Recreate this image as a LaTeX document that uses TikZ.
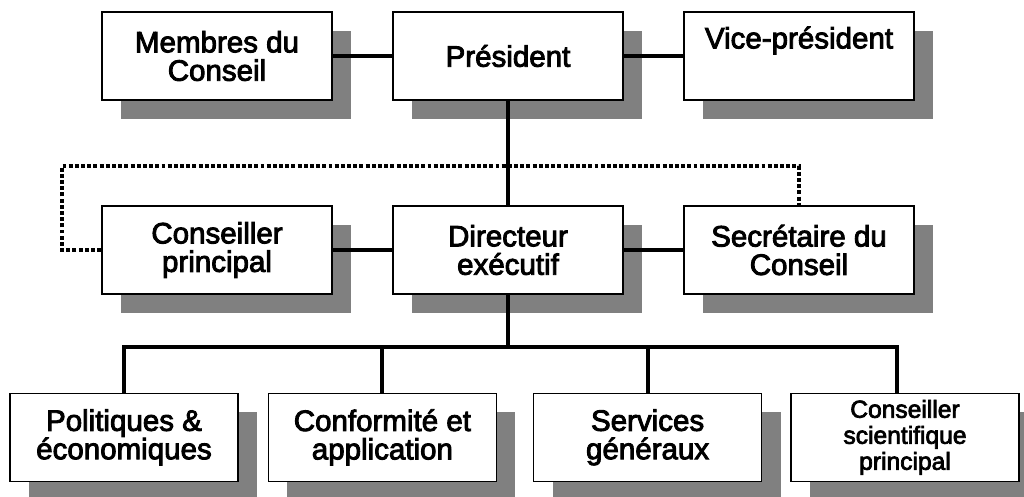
\documentclass[tikz,border=0pt]{standalone}
\usepackage{fontspec}
\setmainfont{Liberation Sans}[BoldFont=Liberation Sans,BoldFeatures={FakeBold=3}]
\usetikzlibrary{shadows}
\definecolor{OrgShadow}{HTML}{808080}
\tikzset{
  orgbox/.style={draw=black,line width=1.2pt,fill=white,minimum width=5.75cm,minimum height=2.2cm,
    inner sep=0pt,align=center,font=\fontsize{21}{20.2}\selectfont\bfseries,
    general shadow={fill=OrgShadow,shadow xshift=0.475cm,shadow yshift=-0.475cm}},
  orgline/.style={line width=2.8pt},
  orgdots/.style={line width=2.8pt,dash pattern=on 2.8pt off 1.6pt}
}

\begin{document}
\begin{tikzpicture}[x=1cm,y=1cm]
\path[use as bounding box] (0,0) rectangle (25.60,12.425);
% top row
\node[orgbox] (membres) at (5.425,11.025) {Membres du\\Conseil};
\node[orgbox] (pres) at (12.70,11.025) {Président};
\node[orgbox] (vice) at (19.975,11.025) {Vice-président\\\strut};
% middle row
\node[orgbox] (cp) at (5.425,6.175) {Conseiller\\principal};
\node[orgbox] (dir) at (12.70,6.175) {Directeur\\exécutif};
\node[orgbox] (sec) at (19.975,6.175) {Secrétaire du\\Conseil};
% bottom row
\node[orgbox,minimum width=5.7cm] (pol) at (3.10,1.49) {Politiques \&\\économiques};
\node[orgbox,minimum width=5.7cm] (conf) at (9.56,1.49) {Conformité et\\application};
\node[orgbox,minimum width=5.7cm] (serv) at (16.19,1.49) {Services\\généraux};
\node[orgbox,minimum width=5.7cm,font=\fontsize{17.5}{18.5}\selectfont\bfseries] (csp) at (22.625,1.49) {Conseiller\\scientifique\\principal};
\coordinate (dotl) at (1.55,8.275);
\coordinate (bus) at (12.70,3.75);
\draw[orgdots] (cp.west) -| (dotl) -| (sec.north);
\draw[orgline] (membres) -- (pres);
\draw[orgline] (pres) -- (vice);
\draw[orgline] (pres) -- (dir);
\draw[orgline] (cp) -- (dir);
\draw[orgline] (dir) -- (sec);
\draw[orgline] (dir) -- (bus);
\draw[orgline] (pol.north) |- (bus) -| ([xshift=-0.2cm]csp.north);
\draw[orgline] (conf.north) -- (conf.north |- bus);
\draw[orgline] (serv.north) -- (serv.north |- bus);
\end{tikzpicture}
\end{document}
